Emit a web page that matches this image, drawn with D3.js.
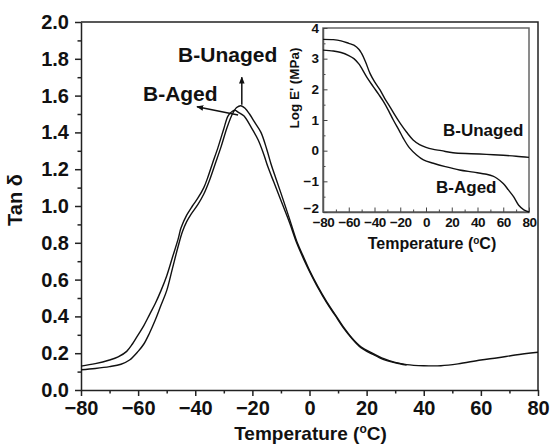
<!DOCTYPE html>
<html>
<head>
<meta charset="utf-8">
<script src="https://cdn.jsdelivr.net/npm/d3@7"></script>
<style>
  body { margin: 0; background: #fff; }
  text { font-family: "Liberation Sans", Arial, sans-serif; font-weight: bold; fill: #111; }
</style>
</head>
<body>
<div id="chart"></div>
<script>
// main plot: tan delta vs temperature
const unagedTan = [[-80,0.11],[-75,0.117],[-70,0.127],[-66,0.14],[-63,0.163],[-60,0.21],[-58,0.25],[-56,0.31],[-54,0.38],[-52,0.46],[-50,0.54],[-48,0.66],[-46,0.78],[-44.5,0.86],[-43,0.915],[-41.5,0.955],[-39,1.01],[-37,1.065],[-35,1.14],[-33,1.23],[-31,1.32],[-29,1.42],[-27,1.50],[-25.5,1.535],[-24,1.545],[-22.5,1.53],[-21,1.50],[-19,1.45],[-17,1.40],[-15,1.31],[-13.5,1.23],[-12,1.16],[-10,1.07],[-7,0.93],[-4.5,0.81],[-2,0.72],[0,0.65],[3,0.56],[6,0.48],[9,0.41],[12,0.34],[15,0.28],[18,0.235],[22,0.20],[26,0.17],[30,0.15],[34,0.138],[40,0.132],[46,0.132],[52,0.142],[60,0.163],[66,0.175],[72,0.19],[80,0.205]];
const agedTan = [[-80,0.13],[-75,0.143],[-70,0.163],[-67,0.18],[-64,0.21],[-62,0.25],[-60,0.30],[-58,0.35],[-56,0.41],[-54,0.47],[-52,0.54],[-50,0.62],[-48,0.72],[-46,0.82],[-45,0.88],[-43,0.95],[-41,1.0],[-39,1.045],[-37,1.10],[-35.5,1.16],[-34,1.23],[-32,1.32],[-30,1.42],[-28.5,1.49],[-27,1.515],[-26,1.52],[-25,1.51],[-23,1.49],[-20.5,1.43],[-18,1.36],[-16,1.28],[-14.5,1.21],[-12.5,1.13],[-10.5,1.05],[-7,0.91],[-4.5,0.80],[-2,0.71],[0,0.645],[3,0.555],[6,0.475],[9,0.405],[12,0.335],[15,0.277],[18,0.23],[22,0.195],[26,0.165],[30,0.148],[34,0.135]];

// inset: log E' vs temperature
const unagedLogE = [[-80,3.63],[-72,3.62],[-66,3.58],[-60,3.50],[-56,3.44],[-52,3.3],[-50,3.17],[-47,2.9],[-43.5,2.52],[-40,2.25],[-35.7,1.98],[-32,1.7],[-28,1.43],[-24,1.15],[-20,0.89],[-15,0.6],[-10,0.35],[-5,0.2],[0,0.11],[5,0.05],[12,0.0],[21,-0.07],[35,-0.1],[47,-0.12],[60,-0.15],[70,-0.18],[80,-0.22]];
const agedLogE = [[-80,3.28],[-72,3.25],[-66,3.2],[-60,3.1],[-56,3.0],[-52,2.82],[-50,2.69],[-46,2.4],[-41,2.09],[-37,1.85],[-33,1.6],[-29,1.3],[-25.4,1.0],[-21,0.67],[-17.6,0.40],[-13,0.1],[-7.3,-0.14],[-2,-0.3],[5.7,-0.41],[15,-0.52],[26,-0.63],[37,-0.7],[47,-0.77],[52,-0.83],[55,-0.9],[60,-1.07],[64,-1.28],[68,-1.5],[72,-1.78],[76,-1.93],[80,-2.0]];

const tempTicks = [-80, -60, -40, -20, 0, 20, 40, 60, 80];
const tanTicks = [0, 0.2, 0.4, 0.6, 0.8, 1.0, 1.2, 1.4, 1.6, 1.8, 2.0];
const logTicks = [-2, -1, 0, 1, 2, 3, 4];

const W = 552, H = 445;
const margin = { top: 22, right: 14, bottom: 55, left: 81 };
const width = W - margin.left - margin.right;
const height = H - margin.top - margin.bottom;

const svg = d3.select("#chart").append("svg")
    .attr("width", W)
    .attr("height", H);

const defs = svg.append("defs");
defs.append("marker")
    .attr("id", "arrow")
    .attr("viewBox", "0 0 10 10")
    .attr("refX", 9).attr("refY", 5)
    .attr("markerWidth", 7).attr("markerHeight", 7)
    .attr("markerUnits", "userSpaceOnUse")
    .attr("orient", "auto")
    .append("path")
    .attr("d", "M0,1 L10,5 L0,9 Z")
    .attr("fill", "#111");

const g = svg.append("g").attr("transform", `translate(${margin.left},${margin.top})`);

const x = d3.scaleLinear().domain([-80, 80]).range([0, width]);
const y = d3.scaleLinear().domain([0, 2]).range([height, 0]);

// minor ticks
g.append("g")
    .attr("transform", `translate(0,${height})`)
    .call(d3.axisBottom(x).tickValues(d3.range(-70, 80, 20)).tickSize(3.5).tickFormat(""))
    .call(a => a.select(".domain").remove());
g.append("g")
    .call(d3.axisLeft(y).tickValues(d3.range(0.1, 2, 0.2)).tickSize(3.5).tickFormat(""))
    .call(a => a.select(".domain").remove());

const xAxis = g.append("g")
    .attr("transform", `translate(0,${height})`)
    .call(d3.axisBottom(x).tickValues(tempTicks).tickSize(6).tickPadding(5).tickSizeOuter(0).tickFormat(d3.format("d")));
xAxis.selectAll("text").style("font-size", "20px").attr("fill", "#111");

const yAxis = g.append("g")
    .call(d3.axisLeft(y).tickValues(tanTicks).tickSize(6).tickPadding(6).tickSizeOuter(0).tickFormat(d3.format(".1f")));
yAxis.selectAll("text").style("font-size", "20px").attr("fill", "#111");

g.selectAll(".domain, .tick line").attr("stroke", "#222").attr("stroke-width", 1.5);

// frame top and right
g.append("path")
    .attr("d", `M0,0 H${width} V${height}`)
    .attr("fill", "none")
    .attr("stroke", "#222")
    .attr("stroke-width", 1.5);

const line = d3.line()
    .x(d => x(d[0]))
    .y(d => y(d[1]))
    .curve(d3.curveCatmullRom);

g.append("path").datum(agedTan).attr("d", line)
    .attr("fill", "none").attr("stroke", "#111").attr("stroke-width", 1.4);
g.append("path").datum(unagedTan).attr("d", line)
    .attr("fill", "none").attr("stroke", "#111").attr("stroke-width", 1.4);

// annotations
g.append("line")
    .attr("x1", x(-23.7)).attr("y1", y(1.55))
    .attr("x2", x(-23.7)).attr("y2", y(1.70))
    .attr("stroke", "#111").attr("stroke-width", 1.5)
    .attr("marker-end", "url(#arrow)");
g.append("line")
    .attr("x1", x(-25)).attr("y1", y(1.495))
    .attr("x2", x(-39.4)).attr("y2", y(1.54))
    .attr("stroke", "#111").attr("stroke-width", 1.5)
    .attr("marker-end", "url(#arrow)");

g.append("text")
    .attr("x", x(-46)).attr("y", y(1.78))
    .style("font-size", "21px")
    .text("B-Unaged");
g.append("text")
    .attr("x", x(-58.3)).attr("y", y(1.57))
    .style("font-size", "21px")
    .text("B-Aged");

// axis titles
const xt = svg.append("text")
    .attr("x", margin.left + width / 2 + 1)
    .attr("y", 440)
    .attr("text-anchor", "middle")
    .style("font-size", "19px");
xt.append("tspan").text("Temperature (");
xt.append("tspan").attr("baseline-shift", "super").style("font-size", "12px").text("o");
xt.append("tspan").text("C)");

svg.append("text")
    .attr("transform", `translate(22,${margin.top + 178}) rotate(-90)`)
    .attr("text-anchor", "middle")
    .style("font-size", "20px")
    .text("Tan δ");

// inset
const inset = { left: 323, top: 28, width: 206, height: 184 };
const ig = svg.append("g").attr("transform", `translate(${inset.left},${inset.top})`);

const xi = d3.scaleLinear().domain([-80, 80]).range([0, inset.width]);
const yi = d3.scaleLinear().domain([-2, 4]).range([inset.height, 0]);

ig.append("rect")
    .attr("width", inset.width).attr("height", inset.height)
    .attr("fill", "#fff")
    .attr("stroke", "#666").attr("stroke-width", 1.5);

ig.append("g")
    .attr("transform", `translate(0,${inset.height})`)
    .call(d3.axisTop(xi).tickValues(d3.range(-70, 80, 20)).tickSize(2.5).tickFormat(""))
    .call(a => a.select(".domain").remove());
ig.append("g")
    .call(d3.axisRight(yi).tickValues(d3.range(-1.5, 4, 1)).tickSize(2.5).tickFormat(""))
    .call(a => a.select(".domain").remove());

const xiAxis = ig.append("g")
    .attr("transform", `translate(0,${inset.height})`)
    .call(d3.axisBottom(xi).tickValues(tempTicks).tickSize(0).tickPadding(5).tickFormat(d3.format("d")));
xiAxis.selectAll("text").style("font-size", "13.5px").attr("fill", "#111").attr("letter-spacing", "-0.5px");
ig.append("g")
    .attr("transform", `translate(0,${inset.height})`)
    .call(d3.axisTop(xi).tickValues(tempTicks).tickSize(4.5).tickFormat(""))
    .call(a => a.select(".domain").remove());

const yiAxis = ig.append("g")
    .call(d3.axisLeft(yi).tickValues(logTicks).tickSize(0).tickPadding(4).tickFormat(d3.format("d")));
yiAxis.selectAll("text").style("font-size", "13.5px").attr("fill", "#111");
// lift the lowest label a little so it clears the x tick labels
yiAxis.selectAll("text").filter(d => d === -2).attr("dy", "0.05em");
ig.append("g")
    .call(d3.axisRight(yi).tickValues(logTicks).tickSize(4.5).tickFormat(""))
    .call(a => a.select(".domain").remove());

ig.selectAll(".domain").attr("stroke", "#555").attr("stroke-width", 1.5);
ig.selectAll(".tick line").attr("stroke", "#444").attr("stroke-width", 1);

const lineI = d3.line()
    .x(d => xi(d[0]))
    .y(d => yi(d[1]))
    .curve(d3.curveCatmullRom);

ig.append("path").datum(unagedLogE).attr("d", lineI)
    .attr("fill", "none").attr("stroke", "#111").attr("stroke-width", 1.4);
ig.append("path").datum(agedLogE).attr("d", lineI)
    .attr("fill", "none").attr("stroke", "#111").attr("stroke-width", 1.4);

ig.append("text")
    .attr("x", xi(13.2)).attr("y", yi(0.48))
    .style("font-size", "17px")
    .text("B-Unaged");
ig.append("text")
    .attr("x", xi(7.8)).attr("y", yi(-1.38))
    .style("font-size", "17px")
    .text("B-Aged");

const xit = ig.append("text")
    .attr("x", inset.width / 2 + 6)
    .attr("y", inset.height + 37)
    .attr("text-anchor", "middle")
    .style("font-size", "16px");
xit.append("tspan").text("Temperature (");
xit.append("tspan").attr("baseline-shift", "super").style("font-size", "10px").text("o");
xit.append("tspan").text("C)");

ig.append("text")
    .attr("transform", `translate(-24,${88 - inset.top}) rotate(-90)`)
    .attr("text-anchor", "middle")
    .style("font-size", "13.5px")
    .text("Log E' (MPa)");
</script>
</body>
</html>
